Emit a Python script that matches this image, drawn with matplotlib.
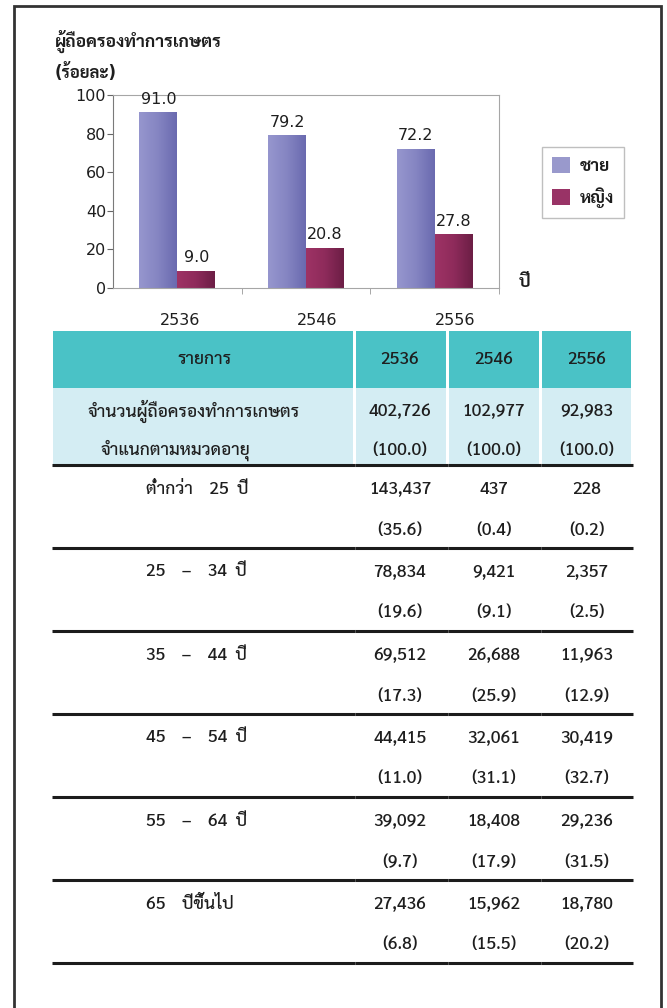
import numpy as np
import matplotlib
matplotlib.use('Agg')
import matplotlib.pyplot as plt
from matplotlib.patches import Rectangle, Patch
from matplotlib.colors import LinearSegmentedColormap
import matplotlib.transforms as mtransforms
import warnings
warnings.filterwarnings('ignore')

# ข้อมูลกราฟ
years = ['2536', '2546', '2556']
male = [91.0, 79.2, 72.2]
female = [9.0, 20.8, 27.8]
series_names = ['ชาย', 'หญิง']

# ข้อมูลตาราง
head_label = 'รายการ'
total_label = ['จำนวนผู้ถือครองทำการเกษตร', 'จำแนกตามหมวดอายุ']
total_n = [402726, 102977, 92983]
total_pct = [100.0, 100.0, 100.0]
age_labels = ['ต่ำกว่า    25  ปี', '25    –    34  ปี', '35    –    44  ปี',
              '45    –    54  ปี', '55    –    64  ปี', '65    ปีขึ้นไป']
age_n = [[143437, 437, 228],
         [78834, 9421, 2357],
         [69512, 26688, 11963],
         [44415, 32061, 30419],
         [39092, 18408, 29236],
         [27436, 15962, 18780]]
age_pct = [[35.6, 0.4, 0.2],
           [19.6, 9.1, 2.5],
           [17.3, 25.9, 12.9],
           [11.0, 31.1, 32.7],
           [9.7, 17.9, 31.5],
           [6.8, 15.5, 20.2]]

CHART_FONT = ['DejaVu Sans', 'Noto Sans Thai Looped', 'Noto Sans Thai', 'Sarabun']
TITLE_FONT = ['DejaVu Sans', 'Sarabun']
TABLE_FONT = ['Sarabun', 'Noto Sans Thai', 'DejaVu Sans']
TXT = '#1e1e1e'

W, H = 667, 1008
fig = plt.figure(figsize=(W / 100, H / 100), dpi=100)

# พื้นหลังเป็นพิกัดพิกเซล
bg = fig.add_axes([0, 0, 1, 1], zorder=0)
bg.set_xlim(0, W)
bg.set_ylim(H, 0)
bg.axis('off')

# กรอบนอก
bg.plot([13.5, 13.5, 660.5, 660.5], [H, 6, 6, H], color='#333333', lw=2, solid_joinstyle='miter')

# ชื่อกราฟ
bg.text(55, 41, 'ผู้ถือครองทำการเกษตร', family=TITLE_FONT, fontsize=12.5, weight='bold',
        color=TXT, va='center', ha='left')
bg.text(55, 72, '(ร้อยละ)', family=TITLE_FONT, fontsize=12, weight='bold',
        color=TXT, va='center', ha='left')

# ---------- กราฟแท่ง ----------
ax = fig.add_axes([113 / W, 1 - 288 / H, 386 / W, 193 / H], zorder=2)
ax.set_facecolor('none')
x = np.arange(len(years))
bw = 0.295
bars_m = ax.bar(x - bw / 2, male, bw, color='none', edgecolor='none')
bars_f = ax.bar(x + bw / 2, female, bw, color='none', edgecolor='none')

cm_m = LinearSegmentedColormap.from_list('m', ['#9696CE', '#8585C2', '#6A6AAF'])
cm_f = LinearSegmentedColormap.from_list('f', ['#9E3365', '#8E2B5B', '#6C1E45'])
grad = np.linspace(0, 1, 64).reshape(1, -1)
for bars, cmap in [(bars_m, cm_m), (bars_f, cm_f)]:
    for b in bars:
        x0, y0 = b.get_x(), b.get_y()
        im = ax.imshow(grad, cmap=cmap, aspect='auto', interpolation='bicubic',
                       extent=(x0, x0 + b.get_width(), y0, y0 + b.get_height()), zorder=2)
        im.set_clip_path(b)
    for b in bars:
        v = b.get_height()
        ax.annotate(f'{v:.1f}', (b.get_x() + b.get_width() / 2, v), xytext=(0, 4),
                    textcoords='offset points', ha='center', va='bottom',
                    fontsize=11.5, family=CHART_FONT, color=TXT)

ax.set_xlim(-0.5, 2.5)
ax.set_ylim(0, 100)
ax.set_yticks(range(0, 101, 20))
ax.tick_params(axis='y', labelsize=11.5, length=4, color='#666666', labelcolor=TXT, pad=1)
for lab in ax.get_yticklabels():
    lab.set_family(CHART_FONT)
ax.set_xticks(x)
ax.set_xticklabels(years)
ax.set_xticks([0.5, 1.5, 2.5], minor=True)
ax.tick_params(axis='x', which='major', length=0, pad=18, labelsize=11.5, labelcolor=TXT)
ax.tick_params(axis='x', which='minor', length=4, color='#999999')
xoff = [3, 11, 20]
for lab, dx in zip(ax.get_xticklabels(), xoff):
    lab.set_family(CHART_FONT)
    lab.set_transform(lab.get_transform() + mtransforms.ScaledTranslation(dx / 100, 0, fig.dpi_scale_trans))
for s in ['top', 'right', 'bottom']:
    ax.spines[s].set_color('#a6a6a6')
ax.spines['left'].set_color('#7a7a7a')
ax.text(1.065, 0.03, 'ปี', transform=ax.transAxes, family=TITLE_FONT, fontsize=12.5,
        weight='bold', color=TXT, va='center', ha='center')

handles = [Patch(facecolor='#9999CC', edgecolor='none'), Patch(facecolor='#993366', edgecolor='none')]
leg = fig.legend(handles, series_names, loc='upper left', bbox_to_anchor=(542 / W, 1 - 147 / H),
                 prop={'family': TITLE_FONT, 'size': 12.5, 'weight': 'bold'}, frameon=True,
                 fancybox=False, handlelength=1.05, handleheight=1.05, labelspacing=0.75,
                 borderpad=0.55, handletextpad=0.6, borderaxespad=0)
leg.get_frame().set_edgecolor('#b0b0b0')
leg.get_frame().set_linewidth(1)
for t in leg.get_texts():
    t.set_color(TXT)

# ---------- ตาราง ----------
col_edges = [(53, 353), (356, 446), (449, 539), (542, 631)]
col_cx = [400, 494, 587]
fs = 12.5
tkw = dict(family=TABLE_FONT, fontsize=fs, color=TXT, va='center', weight='medium')

def cells(y0, y1, color):
    for a, b in col_edges:
        bg.add_patch(Rectangle((a, y0), b - a, y1 - y0, facecolor=color, edgecolor='none'))

def hline(y):
    for a, b in col_edges:
        bg.plot([a - 1.5, b + 1.5], [y, y], color='#1c1c1c', lw=2.2, solid_capstyle='butt')

cells(331, 388, '#4AC2C6')
cells(388, 465, '#D4EDF3')
bg.text(205, 359, head_label, ha='center', **tkw)
for cx, yr in zip(col_cx, years):
    bg.text(cx, 359, yr, ha='center', **tkw)

bg.text(88, 411, total_label[0], ha='left', **tkw)
bg.text(101, 450, total_label[1], ha='left', **tkw)
for cx, n, p in zip(col_cx, total_n, total_pct):
    bg.text(cx, 411, f'{n:,}', ha='center', **tkw)
    bg.text(cx, 450, f'({p:.1f})', ha='center', **tkw)
hline(465)

row_h = 83
for i, (lab, ns, ps) in enumerate(zip(age_labels, age_n, age_pct)):
    top = 465 + i * row_h
    bg.text(146, top + 24, lab, ha='left', **tkw)
    for cx, n, p in zip(col_cx, ns, ps):
        bg.text(cx, top + 24, f'{n:,}', ha='center', **tkw)
        bg.text(cx, top + 65, f'({p:.1f})', ha='center', **tkw)
    hline(top + row_h)

fig.savefig('out.png', dpi=100)
